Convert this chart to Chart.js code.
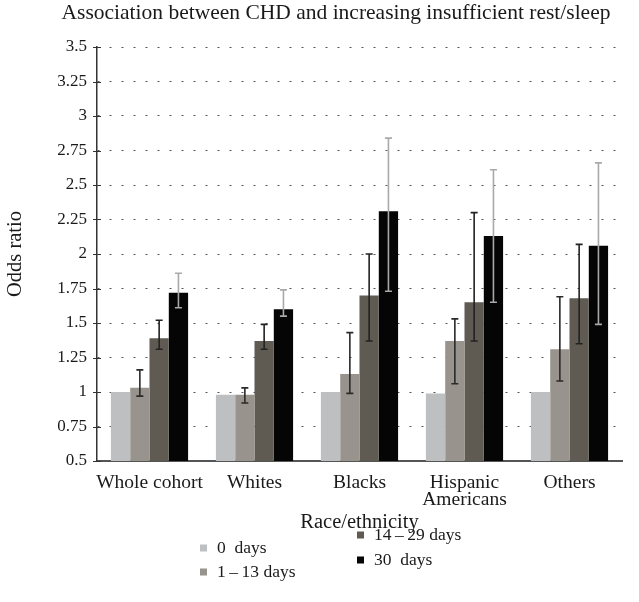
<!DOCTYPE html>
<html><head><meta charset="utf-8">
<script src="https://cdn.jsdelivr.net/npm/chart.js@4.4.1/dist/chart.umd.min.js"></script>
<style>html,body{margin:0;padding:0;background:#fff;}</style>
</head><body>
<canvas id="c" width="639" height="602"></canvas>
<script>
// ---- data ----
const categories = ['Whole cohort', 'Whites', 'Blacks', ['Hispanic', 'Americans'], 'Others'];
const seriesNames = ['0  days', '1\u2009\u2013\u200913 days', '14\u2009\u2013\u200929 days', '30  days'];
const days0 = [1.00, 0.98, 1.00, 0.99, 1.00];
const days1to13 = [1.03, 0.98, 1.13, 1.37, 1.31];
const days1to13Low = [0.97, 0.92, 0.99, 1.06, 1.08];
const days1to13High = [1.16, 1.03, 1.43, 1.53, 1.69];
const days14to29 = [1.39, 1.37, 1.70, 1.65, 1.68];
const days14to29Low = [1.31, 1.31, 1.37, 1.37, 1.35];
const days14to29High = [1.52, 1.49, 2.00, 2.30, 2.07];
const days30 = [1.72, 1.60, 2.31, 2.13, 2.06];
const days30Low = [1.61, 1.55, 1.73, 1.65, 1.49];
const days30High = [1.86, 1.74, 2.84, 2.61, 2.66];
const yMin = 0.5, yMax = 3.5, yStep = 0.25;
const chartTitle = 'Association between CHD and increasing insufficient rest/sleep';
const xTitle = 'Race/ethnicity';
const yTitle = 'Odds ratio';

// ---- styles ----
const FONT = "'Liberation Serif', 'Times New Roman', serif";
const TXT = '#1a1a1a';
const colors = ['#bebfc1', '#98938c', '#5f5b53', '#050505'];
const errColors = [null, '#2a2a2a', '#222222', '#a9a9a9'];
const lows = [null, days1to13Low, days14to29Low, days30Low];
const highs = [null, days1to13High, days14to29High, days30High];
const values = [days0, days1to13, days14to29, days30];

const errorBars = {
  id: 'errorBars',
  afterDatasetsDraw(chart) {
    const ctx = chart.ctx, y = chart.scales.y;
    chart.data.datasets.forEach((ds, di) => {
      if (!lows[di]) return;
      const meta = chart.getDatasetMeta(di);
      meta.data.forEach((bar, i) => {
        const x = bar.x;
        const y1 = y.getPixelForValue(lows[di][i]);
        const y2 = y.getPixelForValue(highs[di][i]);
        ctx.save();
        ctx.strokeStyle = errColors[di];
        ctx.lineWidth = 1.6;
        ctx.beginPath();
        ctx.moveTo(x, y1); ctx.lineTo(x, y2);
        ctx.moveTo(x - 3.5, y1); ctx.lineTo(x + 3.5, y1);
        ctx.moveTo(x - 3.5, y2); ctx.lineTo(x + 3.5, y2);
        ctx.stroke();
        ctx.restore();
      });
    });
  }
};

// y-axis ticks that cross the axis line
const crossTicks = {
  id: 'crossTicks',
  afterDraw(chart) {
    const ctx = chart.ctx, y = chart.scales.y, x0 = chart.chartArea.left;
    ctx.save();
    ctx.strokeStyle = '#333';
    ctx.lineWidth = 1;
    y.ticks.forEach(t => {
      const py = Math.round(y.getPixelForValue(t.value)) + 0.5;
      ctx.beginPath(); ctx.moveTo(x0 - 4, py); ctx.lineTo(x0 + 4, py); ctx.stroke();
    });
    ctx.restore();
  }
};

const legendPos = [
  {bx: 200, ty: 548}, {bx: 200, ty: 572}, {bx: 357, ty: 535}, {bx: 357, ty: 560}
];
const titleLegend = {
  id: 'titleLegend',
  afterDraw(chart) {
    const ctx = chart.ctx;
    ctx.save();
    ctx.fillStyle = TXT;
    ctx.font = "21.5px " + FONT;
    ctx.textAlign = 'center';
    ctx.textBaseline = 'middle';
    ctx.fillText(chartTitle, 336, 13);
    ctx.textAlign = 'left';
    ctx.font = "17.5px " + FONT;
    chart.data.datasets.forEach((ds, di) => {
      const p = legendPos[di];
      ctx.fillStyle = ds.backgroundColor;
      ctx.fillRect(p.bx, p.ty - 3.5, 7, 7);
      ctx.fillStyle = TXT;
      ctx.fillText(ds.label, p.bx + 17, p.ty);
    });
    ctx.restore();
  }
};

new Chart(document.getElementById('c'), {
  type: 'bar',
  data: {
    labels: categories,
    datasets: values.map((v, i) => ({
      label: seriesNames[i],
      data: v,
      backgroundColor: colors[i],
      borderWidth: 0,
      barPercentage: 1.0,
      categoryPercentage: 0.735
    }))
  },
  options: {
    responsive: false,
    animation: false,
    devicePixelRatio: 1,
    layout: {padding: {left: 0, right: 17, top: 47, bottom: 69}},
    plugins: {legend: {display: false}, tooltip: {enabled: false}, title: {display: false}},
    scales: {
      x: {
        grid: {display: false, drawTicks: false},
        border: {color: '#555', width: 2},
        ticks: {font: {family: FONT, size: 19.5, lineHeight: 0.9}, color: TXT, padding: 13, maxRotation: 0, autoSkip: false},
        title: {display: true, text: xTitle, font: {family: FONT, size: 20.5, lineHeight: 1.0}, color: TXT, padding: {top: 0, bottom: 0}},
        afterFit(s) { s.height = 72; }
      },
      y: {
        min: yMin, max: yMax,
        ticks: {stepSize: yStep, font: {family: FONT, size: 17}, color: TXT, padding: 10,
          callback: v => String(parseFloat(Number(v).toFixed(2)))},
        grid: {color: '#555', lineWidth: 1, drawTicks: false},
        border: {color: '#333', width: 1.5, dash: [2, 10]},
        title: {display: true, text: yTitle, font: {family: FONT, size: 20.5, lineHeight: 1.0}, color: TXT, padding: {top: 5, bottom: 0}},
        afterFit(s) { s.width = 97; }
      }
    }
  },
  plugins: [errorBars, crossTicks, titleLegend]
});
</script>
</body></html>
